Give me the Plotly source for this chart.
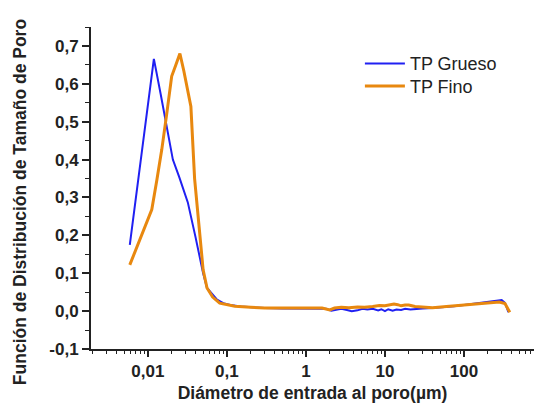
import plotly.graph_objects as go

# Pore entry diameter (µm) and pore-size distribution function
x_grueso = [0.0059, 0.0075, 0.0095, 0.0119, 0.0145, 0.0175, 0.0207, 0.025, 0.032,
            0.040, 0.050, 0.056, 0.065, 0.075, 0.09, 0.11, 0.15, 0.2, 0.3, 0.5,
            0.8, 1.2, 1.8, 2.1, 2.4, 2.8, 3.3, 3.8, 4.5, 5.2, 6.0, 7.0, 8.2, 9.0,
            10, 11, 12.5, 14, 16, 18, 21, 25, 30, 40, 55, 75, 100, 130, 170, 220,
            265, 300, 330, 365]
y_grueso = [0.175, 0.34, 0.51, 0.666, 0.573, 0.481, 0.40, 0.353, 0.287, 0.196,
            0.10, 0.061, 0.045, 0.030, 0.021, 0.016, 0.012, 0.010, 0.008, 0.007,
            0.007, 0.007, 0.006, 0.001, 0.004, 0.006, 0.003, 0.000, 0.002, 0.006,
            0.004, 0.006, 0.002, 0.005, 0.000, 0.005, 0.001, 0.004, 0.003, 0.006,
            0.004, 0.006, 0.007, 0.008, 0.010, 0.013, 0.016, 0.019, 0.022, 0.026,
            0.029, 0.029, 0.022, -0.003]

x_fino = [0.0059, 0.0075, 0.0095, 0.0112, 0.013, 0.015, 0.0175, 0.020, 0.0225,
          0.0254, 0.0285, 0.032, 0.035, 0.039, 0.044, 0.050, 0.056, 0.066, 0.081,
          0.126, 0.2, 0.3, 0.6, 1.0, 1.6, 2.0, 2.3, 2.8, 3.5, 4.5, 5.5, 7.0, 8.5,
          10, 11.5, 13, 14.5, 16, 18, 20, 24, 30, 40, 60, 90, 130, 200, 280, 330,
          380]
y_fino = [0.122, 0.178, 0.23, 0.268, 0.347, 0.427, 0.528, 0.62, 0.649, 0.68,
          0.634, 0.586, 0.54, 0.35, 0.23, 0.109, 0.061, 0.037, 0.021, 0.013,
          0.010, 0.008, 0.008, 0.008, 0.008, 0.003, 0.008, 0.010, 0.009, 0.011,
          0.010, 0.012, 0.015, 0.014, 0.016, 0.019, 0.017, 0.014, 0.016, 0.016,
          0.012, 0.011, 0.009, 0.012, 0.015, 0.019, 0.022, 0.024, 0.020, -0.003]

x_tickvals = [0.01, 0.1, 1, 10, 100]
x_ticktext = ["0,01", "0,1", "1", "10", "100"]
x_minor = [m * 10.0 ** e for e in range(-3, 3) for m in range(2, 10)]
y_tickvals = [-0.1, 0.0, 0.1, 0.2, 0.3, 0.4, 0.5, 0.6, 0.7]
y_ticktext = ["-0,1", "0,0", "0,1", "0,2", "0,3", "0,4", "0,5", "0,6", "0,7"]

FONT = "Liberation Sans"
INK = "#222222"

fig = go.Figure()
fig.add_trace(go.Scatter(x=x_grueso, y=y_grueso, mode="lines", name="TP Grueso",
                         line=dict(color="#2020f2", width=2), legend="legend"))
fig.add_trace(go.Scatter(x=x_fino, y=y_fino, mode="lines", name="TP Fino",
                         line=dict(color="#e8880f", width=3), legend="legend2"))

tick_font = dict(family=FONT, size=17, color=INK, weight="bold")
title_font = dict(family=FONT, size=17.5, color=INK, weight="bold")
legend_font = dict(family=FONT, size=18, color=INK)

fig.update_layout(
    width=534, height=403,
    margin=dict(l=91, r=0, t=27, b=54),
    paper_bgcolor="white", plot_bgcolor="white",
    showlegend=True,
    legend=dict(x=0.607, y=0.886, xanchor="left", yanchor="middle",
                bgcolor="rgba(0,0,0,0)", font=legend_font, itemwidth=40),
    legend2=dict(x=0.607, y=0.816, xanchor="left", yanchor="middle",
                 bgcolor="rgba(0,0,0,0)", font=legend_font, itemwidth=40),
    xaxis=dict(
        type="log", range=[-2.72, 2.886],
        showgrid=False, zeroline=False,
        showline=True, linecolor=INK, linewidth=2,
        ticks="outside", ticklen=6, tickwidth=1.5, tickcolor=INK,
        tickmode="array", tickvals=x_tickvals, ticktext=x_ticktext,
        tickfont=tick_font,
        minor=dict(ticks="outside", ticklen=3, tickwidth=1, tickcolor=INK,
                   tickmode="array", tickvals=x_minor),
        title=dict(text="Diámetro de entrada al poro(µm)", font=title_font,
                   standoff=6),
    ),
    yaxis=dict(
        range=[-0.1, 0.75],
        showgrid=False, zeroline=False,
        showline=True, linecolor=INK, linewidth=2,
        ticks="outside", ticklen=7, tickwidth=1.5, tickcolor=INK,
        tickmode="array", tickvals=y_tickvals, ticktext=y_ticktext,
        tickfont=tick_font,
        minor=dict(ticks="outside", ticklen=4, tickwidth=1, tickcolor=INK,
                   dtick=0.05),
    ),
    annotations=[dict(
        text="Función de Distribución de Tamaño de Poro",
        font=title_font, textangle=-90, showarrow=False,
        xref="paper", yref="paper", x=-0.160, y=0.4565,
        xanchor="center", yanchor="middle",
    )],
)

fig.write_html("out.html")
